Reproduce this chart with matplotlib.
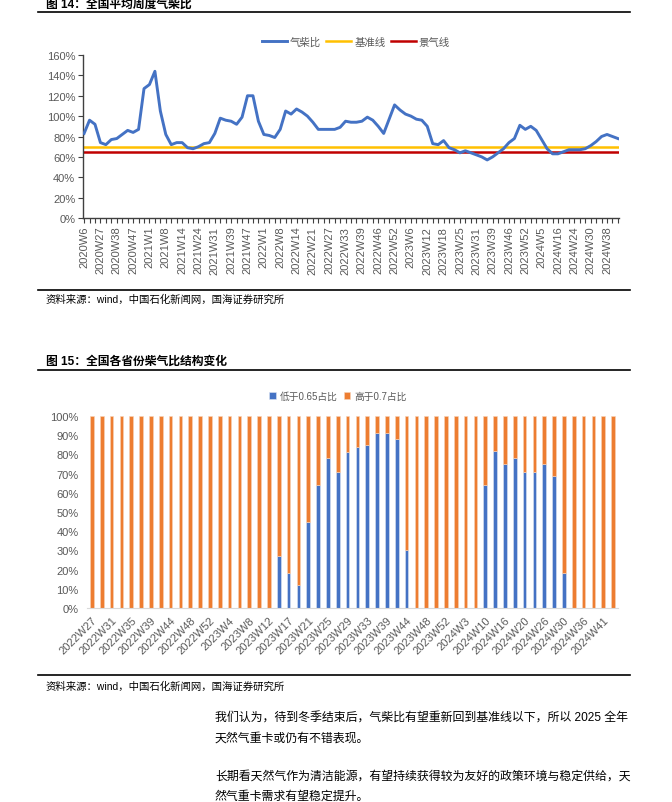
import matplotlib.pyplot as plt
import numpy as np

plt.rcParams['font.family'] = ['Liberation Sans', 'Noto Sans CJK SC', 'DejaVu Sans']

# ---- data: 图14 全国平均周度气柴比 (%) ----
ratio = [83, 96, 92, 74, 72, 77, 78, 82, 86, 84, 87,
         127, 131, 144, 105, 82, 72, 74, 74, 69, 68, 70,
         73, 74, 83, 98, 96, 95, 92, 99, 120, 120, 95,
         82, 81, 79, 87, 105, 102, 107, 104, 100, 94, 87,
         87, 87, 87, 89, 95, 94, 94, 95, 99, 96, 90,
         83, 97, 111, 106, 102, 100, 97, 96, 90, 73, 72,
         76, 69, 67, 64, 66, 64, 62, 60, 57, 60, 64,
         68, 74, 78, 91, 87, 90, 86, 77, 68, 63, 63,
         65, 67, 67, 67, 68, 71, 75, 80, 82, 80, 78]
ratio_ticks = ['2020W6', '2020W27', '2020W38', '2020W47', '2021W1', '2021W8',
               '2021W14', '2021W24', '2021W31', '2021W39', '2021W47', '2022W1',
               '2022W8', '2022W14', '2022W21', '2022W27', '2022W33', '2022W39',
               '2022W46', '2022W52', '2023W6', '2023W12', '2023W18', '2023W25',
               '2023W31', '2023W39', '2023W46', '2023W52', '2024W5', '2024W16',
               '2024W24', '2024W30', '2024W38']
base_line = 70
boom_line = 65

# ---- data: 图15 全国各省份柴气比结构变化 (%) ----
bar_ticks = ['2022W27', '2022W31', '2022W35', '2022W39', '2022W44', '2022W48',
             '2022W52', '2023W4', '2023W8', '2023W12', '2023W17', '2023W21',
             '2023W25', '2023W29', '2023W33', '2023W39', '2023W44', '2023W48',
             '2023W52', '2024W3', '2024W10', '2024W16', '2024W20', '2024W26',
             '2024W30', '2024W36', '2024W41']
low_share = [0, 0, 0, 0, 0, 0, 0, 0, 0, 0, 0, 0, 0, 0, 0, 0, 0, 0, 0,
             27, 18, 12, 45, 64, 78, 71, 81, 84, 85, 91, 91, 88, 30,
             0, 0, 0, 0, 0, 0, 0,
             64, 82, 75, 78, 71, 71, 75, 69, 18,
             0, 0, 0, 0, 0]
high_share = [100, 100, 100, 100, 100, 100, 100, 100, 100, 100, 100, 100, 100,
              100, 100, 100, 100, 100, 100,
              73, 82, 88, 55, 36, 22, 29, 19, 16, 15, 9, 9, 12, 70,
              100, 100, 100, 100, 100, 100, 100,
              36, 18, 25, 22, 29, 29, 25, 31, 82,
              100, 100, 100, 100, 100]

W, H = 672, 803
GRAY = '#595959'


def box(l, t, r, b):
    return [l / W, 1 - b / H, (r - l) / W, (b - t) / H]


def put(x, y, s, **kw):
    fig.text(x / W, 1 - y / H, s, va='center', **kw)


def rule(y):
    fig.add_artist(plt.Line2D([38 / W, 630 / W], [1 - y / H] * 2, color='black', lw=1.2))


fig = plt.figure(figsize=(6.72, 8.03), dpi=100)

# ---------------- 图14 ----------------
put(46, 5, '图 14：全国平均周度气柴比', fontsize=8.5, fontweight='bold')
rule(13)

ax = fig.add_axes(box(83, 56, 619, 219))
x = np.arange(len(ratio))
ax.axhline(base_line / 100, color='#FFC000', lw=1.8, label='基准线', zorder=2)
ax.axhline(boom_line / 100, color='#C00000', lw=1.8, label='景气线', zorder=2)
ax.plot(x, np.array(ratio) / 100, color='#4472C4', lw=2.1, label='气柴比', zorder=3)
ax.set_xlim(-0.2, len(ratio) - 0.8)
ax.set_ylim(0, 1.6)
ax.set_yticks(np.arange(0, 1.61, 0.2))
ax.set_yticklabels([f'{v}%' for v in range(0, 161, 20)])
ax.set_xticks(np.arange(0, len(ratio), 3))
ax.set_xticklabels(ratio_ticks, rotation=90)
ax.set_xticks(x, minor=True)
for s in ['top', 'right']:
    ax.spines[s].set_visible(False)
for s in ['left', 'bottom']:
    ax.spines[s].set_color('#404040')
    ax.spines[s].set_linewidth(1.0)
ax.tick_params(axis='both', which='both', direction='out', length=3.5, width=0.8,
               color='#404040', labelcolor=GRAY, labelsize=8, pad=2)
h, l = ax.get_legend_handles_labels()
order = [2, 0, 1]
ax.legend([h[i] for i in order], [l[i] for i in order], loc='center',
          bbox_to_anchor=(356 / W, 1 - 43 / H), bbox_transform=fig.transFigure,
          ncol=3, frameon=False, fontsize=7.5, labelcolor=GRAY, handlelength=2.4,
          handletextpad=0.3, columnspacing=0.5)

rule(291)
put(46, 300, '资料来源：wind，中国石化新闻网，国海证券研究所', fontsize=7.5)

# ---------------- 图15 ----------------
put(46, 362, '图 15：全国各省份柴气比结构变化', fontsize=8.5, fontweight='bold')
rule(371)

ax2 = fig.add_axes(box(87, 417, 618, 609))
xb = np.arange(len(low_share))
low = np.array(low_share) / 100
high = np.array(high_share) / 100
ax2.bar(xb, low, width=0.36, color='#4472C4', edgecolor='#DCE4F2', lw=0.4,
        label='低于0.65占比', zorder=2)
ax2.bar(xb, high, width=0.36, bottom=low, color='#ED7D31', edgecolor='#F8D3B8',
        lw=0.4, label='高于0.7占比', zorder=2)
ax2.set_xlim(-0.5, len(low_share) - 0.5)
ax2.set_ylim(0, 1)
ax2.set_yticks(np.arange(0, 1.01, 0.1))
ax2.set_yticklabels([f'{v}%' for v in range(0, 101, 10)])
ax2.set_xticks(np.arange(0, len(low_share), 2))
ax2.set_xticklabels(bar_ticks, rotation=45, ha='right', rotation_mode='anchor')
for s in ['top', 'right', 'left']:
    ax2.spines[s].set_visible(False)
ax2.spines['bottom'].set_color('#D9D9D9')
ax2.tick_params(axis='both', length=0, labelcolor=GRAY, labelsize=8)
ax2.tick_params(axis='y', pad=6)
ax2.tick_params(axis='x', pad=5)
ax2.legend(loc='center', bbox_to_anchor=(338 / W, 1 - 397 / H),
           bbox_transform=fig.transFigure, ncol=2, frameon=False, fontsize=7,
           labelcolor=GRAY, handlelength=0.7, handleheight=0.7,
           handletextpad=0.4, columnspacing=0.6)

rule(676)
put(46, 687, '资料来源：wind，中国石化新闻网，国海证券研究所', fontsize=7.5)

put(215, 719, '我们认为，待到冬季结束后，气柴比有望重新回到基准线以下，所以 2025 全年',
    fontsize=8.6)
put(215, 739, '天然气重卡或仍有不错表现。', fontsize=8.6)
put(215, 777, '长期看天然气作为清洁能源，有望持续获得较为友好的政策环境与稳定供给，天',
    fontsize=8.6)
put(215, 797, '然气重卡需求有望稳定提升。', fontsize=8.6)

fig.savefig('out.png', dpi=100)
